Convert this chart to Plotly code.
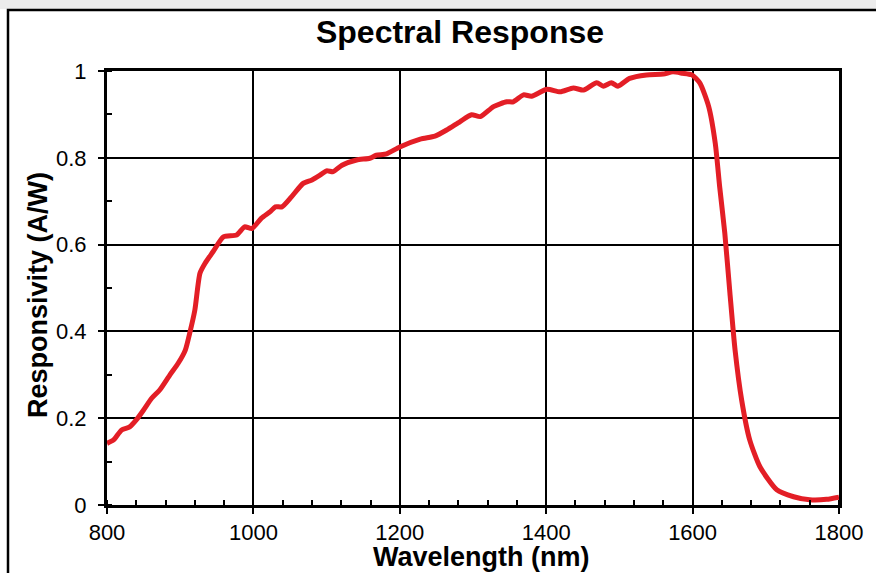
import plotly.graph_objects as go

wavelength_nm = [800, 809, 820, 831, 840, 850, 861, 872, 886, 897, 907, 913, 920, 927, 934, 945,
                 959, 977, 988, 998, 1011, 1023, 1030, 1039, 1052, 1068, 1080, 1091, 1100, 1109,
                 1121, 1141, 1159, 1168, 1182, 1200, 1228, 1248, 1264, 1282, 1298, 1310, 1328,
                 1346, 1355, 1369, 1380, 1401, 1419, 1437, 1451, 1469, 1478, 1489, 1498, 1514,
                 1537, 1560, 1573, 1586, 1599, 1610, 1622, 1631, 1637, 1644, 1651, 1658, 1667,
                 1678, 1692, 1715, 1738, 1760, 1783, 1800]
responsivity = [0.142, 0.150, 0.173, 0.180, 0.196, 0.219, 0.246, 0.265, 0.300, 0.326, 0.357, 0.396,
                0.449, 0.534, 0.557, 0.584, 0.618, 0.622, 0.641, 0.637, 0.661, 0.676, 0.687, 0.687,
                0.710, 0.741, 0.749, 0.760, 0.770, 0.768, 0.783, 0.795, 0.799, 0.806, 0.809, 0.825,
                0.843, 0.850, 0.864, 0.883, 0.899, 0.895, 0.918, 0.929, 0.929, 0.945, 0.942, 0.958,
                0.952, 0.961, 0.956, 0.973, 0.965, 0.973, 0.965, 0.983, 0.991, 0.993, 0.998, 0.995,
                0.991, 0.972, 0.918, 0.833, 0.733, 0.626, 0.488, 0.357, 0.242, 0.150, 0.088, 0.035,
                0.019, 0.012, 0.013, 0.018]

x_ticks = [800, 1000, 1200, 1400, 1600, 1800]
y_ticks = [0, 0.2, 0.4, 0.6, 0.8, 1]

FONT = "Liberation Sans, Arial, sans-serif"

fig = go.Figure()
fig.add_trace(go.Scatter(
    x=wavelength_nm, y=responsivity, mode="lines",
    line=dict(color="#E31E26", width=5, shape="spline", smoothing=0.6),
    hoverinfo="x+y", showlegend=False,
))

axis_common = dict(
    showline=True, linecolor="black", linewidth=3, mirror=True,
    showgrid=True, gridcolor="black", gridwidth=1.5,
    ticks="outside", ticklen=6, tickwidth=1.5, tickcolor="black",
    tickfont=dict(family=FONT, size=22, color="black"),
    zeroline=False,
)

fig.update_xaxes(
    range=[800, 1800], tickvals=x_ticks, ticktext=[str(v) for v in x_ticks],
    minor=dict(dtick=40, ticks="inside", ticklen=5, tickwidth=1.5, tickcolor="black", showgrid=False),
    ticklabelstandoff=0,
    **axis_common,
)
fig.update_yaxes(
    range=[0, 1], tickvals=y_ticks, ticktext=["0", "0.2", "0.4", "0.6", "0.8", "1"],
    minor=dict(dtick=0.1, ticks="inside", ticklen=5, tickwidth=1.5, tickcolor="black", showgrid=False),
    ticklabelstandoff=7,
    **axis_common,
)

fig.update_layout(
    width=876, height=573,
    margin=dict(l=107, r=37, t=71, b=68, pad=0),
    paper_bgcolor="white", plot_bgcolor="white",
    title=dict(text="<b>Spectral Response</b>", xref="container", x=460 / 876, xanchor="center",
               yref="container", y=1 - 32 / 573, yanchor="middle",
               font=dict(family=FONT, size=32, color="black")),
    annotations=[
        dict(text="<b>Wavelength (nm)</b>", xref="paper", yref="paper",
             x=(481 - 107) / 732, y=(505 - 557) / 434, xanchor="center", yanchor="middle",
             showarrow=False, font=dict(family=FONT, size=27, color="black")),
        dict(text="<b>Responsivity (A/W)</b>", xref="paper", yref="paper", textangle=-90,
             x=(38 - 107) / 732, y=(505 - 295) / 434, xanchor="center", yanchor="middle",
             showarrow=False, font=dict(family=FONT, size=27, color="black")),
    ],
    shapes=[
        dict(type="rect", xref="paper", yref="paper", layer="below",
             x0=(0 - 107) / 732, x1=(880 - 107) / 732, y0=(505 - 0) / 434, y1=(505 - 9) / 434,
             fillcolor="#ececec", line=dict(width=0)),
        dict(type="rect", xref="paper", yref="paper", layer="above",
             x0=(8 - 107) / 732, x1=(890 - 107) / 732, y0=(505 - 600) / 434, y1=(505 - 10) / 434,
             fillcolor="rgba(0,0,0,0)", line=dict(color="black", width=2.5)),
    ],
)

fig.write_html("out.html", config={"displayModeBar": False},
               post_script="document.body.style.margin='0';document.body.style.overflow='hidden';")
